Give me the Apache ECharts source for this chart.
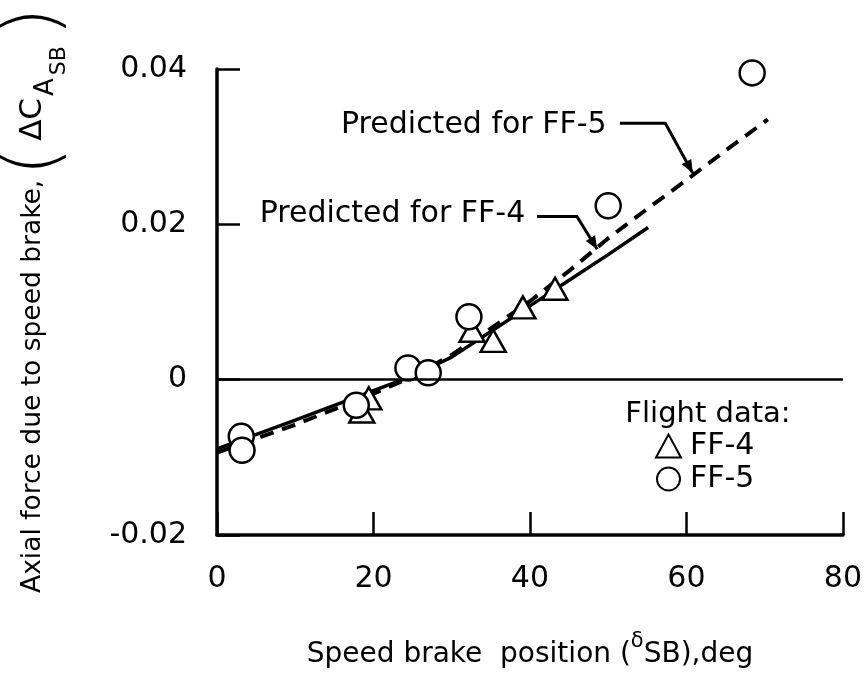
<!DOCTYPE html>
<html><head><meta charset="utf-8">
<script src="https://cdn.jsdelivr.net/npm/echarts@6/dist/echarts.min.js"></script>
<style>html,body{margin:0;padding:0;background:#fff}#c{width:865px;height:675px}</style>
</head><body><div id="c"></div>
<script>
// ---- data ----
const xTicks = [0, 20, 40, 60, 80];
const xTickLabels = ['0', '20', '40', '60', '80'];
const yTicks = [-0.02, 0, 0.02, 0.04];
const yTickLabels = ['-0.02', '0', '0.02', '0.04'];

const ff4X = [18.5, 19.4, 32.6, 35.3, 39.1, 43.2];
const ff4Y = [-0.0041, -0.0024, 0.0063, 0.0050, 0.0093, 0.0117];

const ff5X = [3.1, 3.2, 17.8, 24.4, 27.0, 32.2, 50.0, 68.4];
const ff5Y = [-0.0073, -0.0091, -0.0033, 0.0015, 0.0009, 0.0081, 0.0224, 0.0395];

const predFF4X = [0, 10, 20, 25, 30, 35, 40, 45, 50, 55.1];
const predFF4Y = [-0.0089, -0.0052, -0.0014, 0.0005, 0.0029, 0.0062, 0.0095, 0.0128, 0.0161, 0.0196];

const predFF5X = [0, 10, 20, 25, 30, 35, 40, 45, 50, 55, 60, 65, 70.4];
const predFF5Y = [-0.0094, -0.0058, -0.0018, 0.0004, 0.0032, 0.0066, 0.0101, 0.0140, 0.0182, 0.0220, 0.0257, 0.0295, 0.0335];

const seriesNames = ['FF-4', 'FF-5'];
const legendTitle = 'Flight data:';
const annFF5 = 'Predicted for FF-5';
const annFF4 = 'Predicted for FF-4';
const xTitle = ['Speed brake  position (', 'δ', 'SB),deg'];
const yTitle = ['Axial force due to speed brake,', '(', 'ΔC', 'A', 'SB', ')'];

// ---- chart ----
const FONT = '"DejaVu Sans", "Liberation Sans", sans-serif';
const zip = (a, b) => a.map((v, i) => [v, b[i]]);
const pickLabel = (ticks, labels) => v => {
  let best = 0;
  ticks.forEach((t, i) => { if (Math.abs(t - v) < Math.abs(ticks[best] - v)) best = i; });
  return labels[best];
};

const chart = echarts.init(document.getElementById('c'), null, { renderer: 'canvas' });
const axisCommon = {
  type: 'value',
  axisLine: { onZero: false, lineStyle: { color: '#000', width: 3.5 } },
  axisTick: { inside: true, length: 23, lineStyle: { color: '#000', width: 2.5 } },
  splitLine: { show: false },
};
chart.setOption({
  animation: false,
  backgroundColor: '#fff',
  grid: { left: 217, right: 22, top: 69, bottom: 140 },
  xAxis: Object.assign({}, axisCommon, {
    min: xTicks[0], max: xTicks[xTicks.length - 1], interval: xTicks[1] - xTicks[0],
    axisLabel: { color: '#000', fontSize: 30, fontFamily: FONT, margin: 29, formatter: pickLabel(xTicks, xTickLabels) }
  }),
  yAxis: Object.assign({}, axisCommon, {
    min: yTicks[0], max: yTicks[yTicks.length - 1], interval: yTicks[1] - yTicks[0],
    axisLabel: { color: '#000', fontSize: 30, fontFamily: FONT, margin: 30, padding: [8, 0, 0, 0], formatter: pickLabel(yTicks, yTickLabels) }
  }),
  legend: {
    data: seriesNames, orient: 'vertical', left: 650, top: 426,
    itemWidth: 25, itemHeight: 23, itemGap: 3,
    textStyle: { color: '#000', fontSize: 30, lineHeight: 23, fontFamily: FONT, padding: [0, 0, 0, 4] }
  },
  series: [
    {
      name: 'pred4', type: 'line', data: zip(predFF4X, predFF4Y), symbol: 'none',
      lineStyle: { color: '#000', width: 3.5 }, z: 2,
      markLine: {
        silent: true, symbol: 'none', label: { show: false },
        lineStyle: { color: '#000', width: 2.5, type: 'solid' },
        data: [{ yAxis: 0 }]
      }
    },
    {
      name: 'pred5', type: 'line', data: zip(predFF5X, predFF5Y), symbol: 'none',
      lineStyle: { color: '#000', width: 4, type: [14, 9] }, z: 2
    },
    {
      name: seriesNames[0], type: 'scatter', data: zip(ff4X, ff4Y), symbol: 'triangle', symbolSize: [25, 22],
      itemStyle: { color: '#fff', borderColor: '#000', borderWidth: 2.5, opacity: 1 }, z: 3
    },
    {
      name: seriesNames[1], type: 'scatter', data: zip(ff5X, ff5Y), symbol: 'circle', symbolSize: 25,
      itemStyle: { color: '#fff', borderColor: '#000', borderWidth: 2.5, opacity: 1 }, z: 4
    }
  ]
});

// ---- annotations / titles ----
const ctx = document.createElement('canvas').getContext('2d');
const measure = (t, fs) => { ctx.font = fs + 'px ' + FONT; return ctx.measureText(t).width; };
const px = p => chart.convertToPixel({ gridIndex: 0 }, p);
const graphics = [];

function leader(textStr, textEnd, path) {
  const te = px(textEnd);
  graphics.push({ type: 'text', x: te[0], y: te[1], style: { text: textStr, fontSize: 30, fontFamily: FONT, fill: '#000', align: 'right', verticalAlign: 'middle' } });
  const pts = path.map(px);
  graphics.push({ type: 'polyline', shape: { points: pts }, style: { stroke: '#000', lineWidth: 3, fill: null } });
  const a = pts[pts.length - 2], b = pts[pts.length - 1];
  const dx = b[0] - a[0], dy = b[1] - a[1], L = Math.hypot(dx, dy);
  const ux = dx / L, uy = dy / L, len = 13, hw = 5.5;
  const base = [b[0] - ux * len, b[1] - uy * len];
  graphics.push({ type: 'polygon', shape: { points: [b, [base[0] - uy * hw, base[1] + ux * hw], [base[0] + uy * hw, base[1] - ux * hw]] }, style: { fill: '#000' } });
}
leader(annFF5, [49.8, 0.0327], [[51.5, 0.0330], [57.3, 0.0330], [60.8, 0.0266]]);
leader(annFF4, [39.4, 0.0213], [[40.9, 0.0210], [46.0, 0.0210], [48.6, 0.0168]]);

// legend title
graphics.push({ type: 'text', x: 708, y: 414, style: { text: legendTitle, fontSize: 29, fontFamily: FONT, fill: '#000', align: 'center', verticalAlign: 'middle' } });

// x-axis title
(function () {
  const fs = 28, fsSup = 21;
  const w0 = measure(xTitle[0], fs), w1 = measure(xTitle[1], fsSup), w2 = measure(xTitle[2], fs);
  let x = 530 - (w0 + w1 + w2) / 2;
  const y = 655;
  graphics.push({ type: 'text', x: x, y: y, style: { text: xTitle[0], fontSize: fs, fontFamily: FONT, fill: '#000', verticalAlign: 'middle' } });
  x += w0;
  graphics.push({ type: 'text', x: x, y: y - 13, style: { text: xTitle[1], fontSize: fsSup, fontFamily: FONT, fill: '#000', verticalAlign: 'middle' } });
  x += w1;
  graphics.push({ type: 'text', x: x, y: y, style: { text: xTitle[2], fontSize: fs, fontFamily: FONT, fill: '#000', verticalAlign: 'middle' } });
})();

// y-axis title (rotated)
(function () {
  const parts = [
    { t: yTitle[0], fs: 26.5, dy: 0, gap: 4 },
    { t: yTitle[1], fs: 74, dy: 4, gap: 6, w: 'lighter' },
    { t: yTitle[2], fs: 31, dy: 0, gap: 2 },
    { t: yTitle[3], fs: 26, dy: 13, gap: 3 },
    { t: yTitle[4], fs: 22, dy: 26, gap: 10 },
    { t: yTitle[5], fs: 74, dy: 4, gap: 0, w: 'lighter' }
  ];
  const children = [];
  let x = 0;
  parts.forEach(p => {
    children.push({ type: 'text', x: x, y: p.dy, style: { text: p.t, fontSize: p.fs, fontFamily: FONT, fontWeight: p.w || 'normal', fill: '#000', verticalAlign: 'middle' } });
    x += measure(p.t, p.fs) + p.gap;
  });
  graphics.push({ type: 'group', x: 33, y: 593, rotation: Math.PI / 2, children: children });
})();

chart.setOption({ graphic: graphics });
</script>
</body></html>
